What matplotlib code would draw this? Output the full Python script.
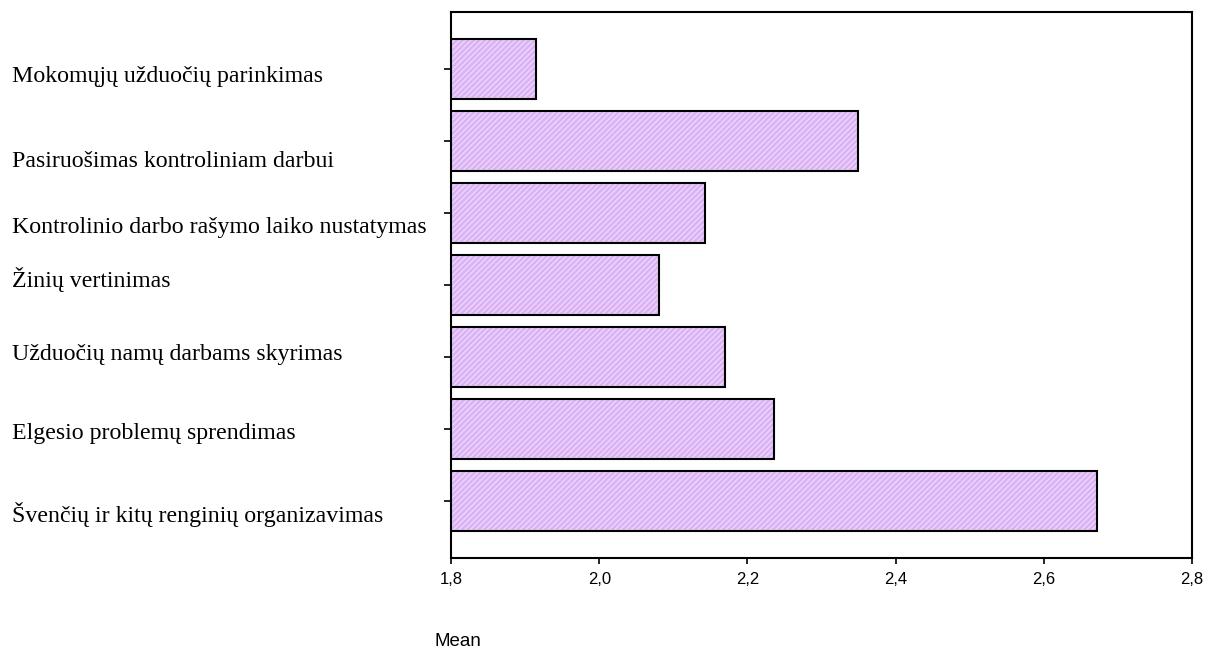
import matplotlib
matplotlib.use("Agg")
import matplotlib.pyplot as plt
from matplotlib.transforms import offset_copy, blended_transform_factory
import numpy as np

categories = [
    "Mokomųjų užduočių parinkimas",
    "Pasiruošimas kontroliniam darbui",
    "Kontrolinio darbo rašymo laiko nustatymas",
    "Žinių vertinimas",
    "Užduočių namų darbams skyrimas",
    "Elgesio problemų sprendimas",
    "Švenčių ir kitų renginių organizavimas",
]
means = [1.915, 2.349, 2.143, 2.081, 2.170, 2.236, 2.672]
x_ticks = [1.8, 2.0, 2.2, 2.4, 2.6, 2.8]
x_ticklabels = ["1,8", "2,0", "2,2", "2,4", "2,6", "2,8"]

# style: vertical nudges (pixels, downward) of category label baselines relative to ticks
label_nudge_px = [13, 26, 20, 2, 3, 10, 21]

plt.rcParams["hatch.linewidth"] = 0.8

W, H, DPI = 1218, 650, 100
fig = plt.figure(figsize=(W / DPI, H / DPI), dpi=DPI)
ax = fig.add_axes([451 / W, 1 - 558 / H, (1192 - 451) / W, (558 - 12) / H])

ypos = np.arange(len(categories))
# fill with light hatch
ax.barh(ypos, means, height=0.83, facecolor="#dbb3f5", edgecolor="#efdefc",
        linewidth=0, hatch="//////", zorder=2)
# black outline
ax.barh(ypos, means, height=0.83, fill=False, edgecolor="black",
        linewidth=1.5, zorder=3)

ax.set_xlim(1.8, 2.8)
ax.set_ylim(len(categories) - 0.21, -0.79)

for s in ax.spines.values():
    s.set_linewidth(1.5)

ax.set_xticks(x_ticks)
ax.set_xticklabels(x_ticklabels, family="Liberation Sans", fontsize=12)
ax.tick_params(axis="x", length=4, width=1.2, pad=6)

ax.set_yticks(ypos)
ax.set_yticklabels([])
ax.tick_params(axis="y", length=5, width=1.2)

base_tr = blended_transform_factory(fig.transFigure, ax.transData)
for i, (lab, nud) in enumerate(zip(categories, label_nudge_px)):
    tr = offset_copy(base_tr, fig=fig, x=0, y=-nud, units="dots")
    fig.text(12 / W, i, lab, transform=tr, ha="left", va="baseline",
             family="Liberation Serif", fontsize=17.2)

fig.text(458 / W, 1 - 641 / H, "Mean", ha="center", va="center",
         family="Liberation Sans", fontsize=13.5)

fig.savefig("out.png", dpi=DPI)
